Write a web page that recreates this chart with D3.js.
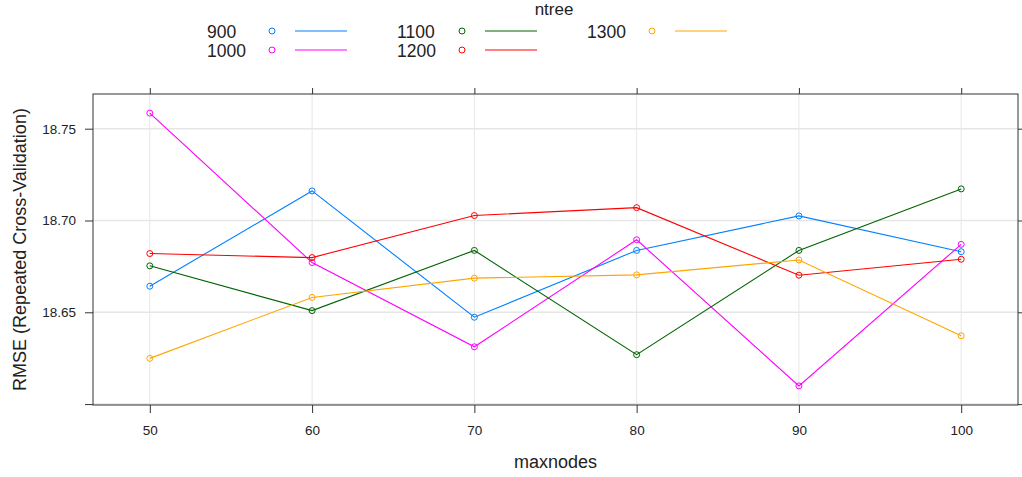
<!DOCTYPE html>
<html>
<head>
<meta charset="utf-8" />
<script src="https://d3js.org/d3.v7.min.js"></script>
<style>
    body { margin: 0; background: #fff; }
    svg { font-family: "Liberation Sans", Arial, sans-serif; }
</style>
</head>
<body>
<svg width="1022" height="477"></svg>
<script>
    // data
    var maxnodes = [50, 60, 70, 80, 90, 100];
    var ntree = ["900", "1000", "1100", "1200", "1300"];
    var rmse900 = [18.6642, 18.7161, 18.6473, 18.6837, 18.7025, 18.6830];
    var rmse1000 = [18.7585, 18.6771, 18.6312, 18.6895, 18.6099, 18.6870];
    var rmse1100 = [18.6753, 18.6509, 18.6837, 18.6269, 18.6837, 18.7172];
    var rmse1200 = [18.6820, 18.6798, 18.7027, 18.7070, 18.6702, 18.6789];
    var rmse1300 = [18.6249, 18.6581, 18.6686, 18.6704, 18.6785, 18.6372];
    var yTicks = [18.60, 18.65, 18.70, 18.75];
    var colors = ["#0080ff", "#ff00ff", "#006400", "#ff0000", "#ffa500"];

    var series = [rmse900, rmse1000, rmse1100, rmse1200, rmse1300].map(function (vals, i) {
        return {
            name: ntree[i],
            color: colors[i],
            values: vals.map(function (v, j) { return { x: maxnodes[j], y: v }; })
        };
    });

    var svg = d3.select("svg");
    var box = { left: 93, top: 94, right: 1018, bottom: 405 };

    // lattice style 7% padding
    var xr = d3.extent(maxnodes), xp = (xr[1] - xr[0]) * 0.07;
    var allY = [].concat(rmse900, rmse1000, rmse1100, rmse1200, rmse1300);
    var yr = d3.extent(allY), yp = (yr[1] - yr[0]) * 0.07;

    var x = d3.scaleLinear().domain([xr[0] - xp, xr[1] + xp]).range([box.left, box.right]);
    var y = d3.scaleLinear().domain([yr[0] - yp, yr[1] + yp]).range([box.bottom, box.top]);

    // grid
    svg.append("g").selectAll("line.gx")
        .data(maxnodes).enter().append("line")
        .attr("x1", function (d) { return x(d); }).attr("x2", function (d) { return x(d); })
        .attr("y1", box.top).attr("y2", box.bottom)
        .attr("stroke", "#e6e6e6").attr("stroke-width", 1);
    svg.append("g").selectAll("line.gy")
        .data(yTicks).enter().append("line")
        .attr("x1", box.left).attr("x2", box.right)
        .attr("y1", function (d) { return y(d); }).attr("y2", function (d) { return y(d); })
        .attr("stroke", "#e6e6e6").attr("stroke-width", 1.5);

    // axes
    var fmt = d3.format(".2f");
    var axLeft = svg.append("g").attr("transform", "translate(" + box.left + ",0)")
        .call(d3.axisLeft(y).tickValues(yTicks).tickSize(8).tickPadding(9)
            .tickFormat(function (d) { return d < 18.62 ? "" : fmt(d); }));
    var axRight = svg.append("g").attr("transform", "translate(" + box.right + ",0)")
        .call(d3.axisRight(y).tickValues(yTicks).tickSize(6).tickFormat(""));
    var axBottom = svg.append("g").attr("transform", "translate(0," + box.bottom + ")")
        .call(d3.axisBottom(x).tickValues(maxnodes).tickSize(8).tickPadding(12).tickFormat(d3.format("d")));
    var axTop = svg.append("g").attr("transform", "translate(0," + box.top + ")")
        .call(d3.axisTop(x).tickValues(maxnodes).tickSize(6).tickFormat(""));

    [axLeft, axRight, axBottom, axTop].forEach(function (a) {
        a.select(".domain").remove();
        a.selectAll(".tick line").attr("stroke", "#333");
        a.selectAll("text").attr("font-size", "13.5px").attr("fill", "#222")
            .attr("font-family", "Liberation Sans, Arial, sans-serif");
    });

    svg.append("rect")
        .attr("x", box.left).attr("y", box.top)
        .attr("width", box.right - box.left).attr("height", box.bottom - box.top)
        .attr("fill", "none").attr("stroke", "#333").attr("stroke-width", 1);

    // lines + points
    var line = d3.line().x(function (d) { return x(d.x); }).y(function (d) { return y(d.y); });
    series.forEach(function (s) {
        svg.append("path").datum(s.values)
            .attr("d", line).attr("fill", "none")
            .attr("stroke", s.color).attr("stroke-width", 1.1);
        svg.append("g").selectAll("circle")
            .data(s.values).enter().append("circle")
            .attr("cx", function (d) { return x(d.x); })
            .attr("cy", function (d) { return y(d.y); })
            .attr("r", 3).attr("fill", "none")
            .attr("stroke", s.color).attr("stroke-width", 1);
    });

    // axis titles
    svg.append("text")
        .attr("x", (box.left + box.right) / 2).attr("y", 468)
        .attr("text-anchor", "middle").attr("font-size", "18px").attr("fill", "#222")
        .text("maxnodes");
    svg.append("text")
        .attr("transform", "translate(26," + (box.top + box.bottom) / 2 + ") rotate(-90)")
        .attr("text-anchor", "middle").attr("font-size", "18px").attr("fill", "#222")
        .text("RMSE (Repeated Cross-Validation)");

    // legend
    svg.append("text")
        .attr("x", 554).attr("y", 15).attr("text-anchor", "middle")
        .attr("font-size", "17px").attr("fill", "#222").text("ntree");

    var legend = svg.append("g").selectAll("g")
        .data(series).enter().append("g")
        .attr("transform", function (d, i) {
            var col = Math.floor(i / 2), row = i % 2;
            return "translate(" + (207 + col * 190) + "," + (31 + row * 19) + ")";
        });
    legend.append("text")
        .attr("x", 0).attr("y", 7).attr("font-size", "17.5px").attr("fill", "#222")
        .text(function (d) { return d.name; });
    legend.append("circle")
        .attr("cx", 65).attr("cy", 0).attr("r", 3).attr("fill", "none")
        .attr("stroke", function (d) { return d.color; });
    legend.append("line")
        .attr("x1", 88).attr("x2", 140).attr("y1", 0).attr("y2", 0)
        .attr("stroke", function (d) { return d.color; });
</script>
</body>
</html>
